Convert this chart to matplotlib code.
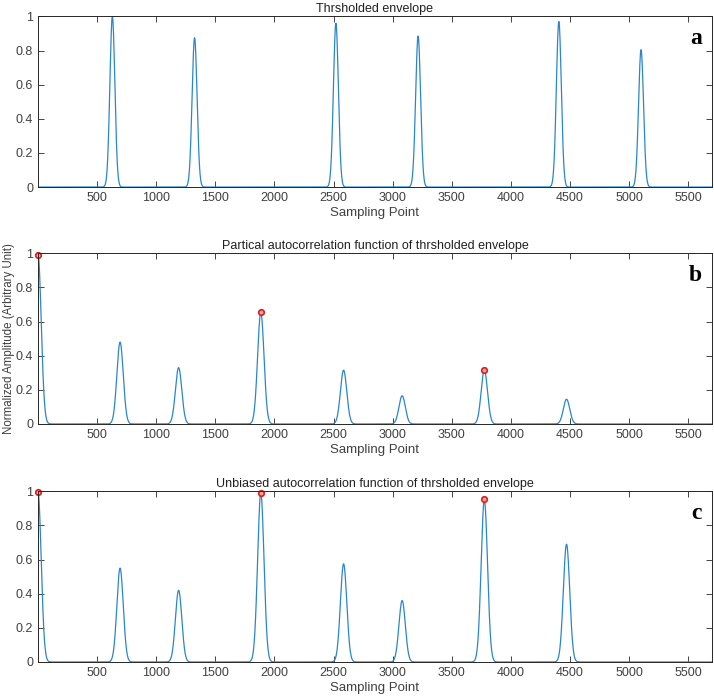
import numpy as np
import matplotlib.pyplot as plt

plt.rcParams['font.family'] = ['Liberation Sans', 'DejaVu Sans']

# Peak data (centre, height, width in samples)
env_centres = [630, 1325, 2520, 3215, 4405, 5100]
env_heights = [1.0, 0.875, 0.96, 0.885, 0.97, 0.805]
env_width = 21

acf_centres = [1, 695, 1190, 1885, 2585, 3080, 3775, 4470]
pacf_heights = [1.0, 0.48, 0.33, 0.655, 0.315, 0.165, 0.315, 0.145]
uacf_heights = [1.0, 0.55, 0.42, 0.99, 0.575, 0.36, 0.95, 0.69]
acf_width = 27

pacf_marks_x = [1, 1885, 3775]
pacf_marks_y = [0.99, 0.655, 0.315]
uacf_marks_x = [1, 1885, 3775]
uacf_marks_y = [0.995, 0.99, 0.955]

titles = ["Thrsholded envelope",
          "Partical autocorrelation function of thrsholded envelope",
          "Unbiased autocorrelation function of thrsholded envelope"]
letters = ["a", "b", "c"]

n = np.arange(1, 5701)


def pulses(centres, heights, w):
    y = np.zeros_like(n, dtype=float)
    for c, h in zip(centres, heights):
        y += h * np.exp(-0.5 * ((n - c) / w) ** 2)
    return y


curves = [pulses(env_centres, env_heights, env_width),
          pulses(acf_centres, pacf_heights, acf_width),
          pulses(acf_centres, uacf_heights, acf_width)]
marks = [None, (pacf_marks_x, pacf_marks_y), (uacf_marks_x, uacf_marks_y)]

fig = plt.figure(figsize=(7.14, 6.98), dpi=100)
bottoms = [0.732, 0.3926, 0.0516]
axis_col = "#262626"

for i in range(3):
    ax = fig.add_axes([0.0532, bottoms[i], 0.944, 0.2445])
    ax.plot(n, curves[i], color="#2a86cc", lw=0.9)
    if marks[i] is not None:
        ax.plot(marks[i][0], marks[i][1], 'o', ms=4, mfc="#f4a0a0",
                mec="#d62020", mew=1.2, clip_on=False)
    ax.set_xlim(1, 5700)
    ax.set_ylim(0, 1)
    ax.set_xticks(np.arange(500, 5501, 500))
    ax.set_yticks([0, 0.2, 0.4, 0.6, 0.8, 1])
    ax.set_yticklabels(["0", "0.2", "0.4", "0.6", "0.8", "1"])
    ax.tick_params(direction="in", top=True, right=True, length=4,
                   width=0.6, labelsize=9, colors=axis_col, labelcolor="#404040")
    for s in ax.spines.values():
        s.set_color(axis_col)
        s.set_linewidth(0.7)
    ax.set_title(titles[i], fontsize=9, color="#202020", pad=3)
    ax.set_xlabel("Sampling Point", fontsize=9.5, color="#404040", labelpad=2)
    ax.text(0.985, 0.93, letters[i], transform=ax.transAxes, ha="right", va="top",
            fontsize=17, fontweight="bold", family="Liberation Serif")

fig.text(0.012, bottoms[1] + 0.2445 / 2, "Normalized Amplitude (Arbitrary Unit)",
         rotation=90, ha="center", va="center", fontsize=8.3, color="#404040")

fig.savefig("out.png", dpi=100)
